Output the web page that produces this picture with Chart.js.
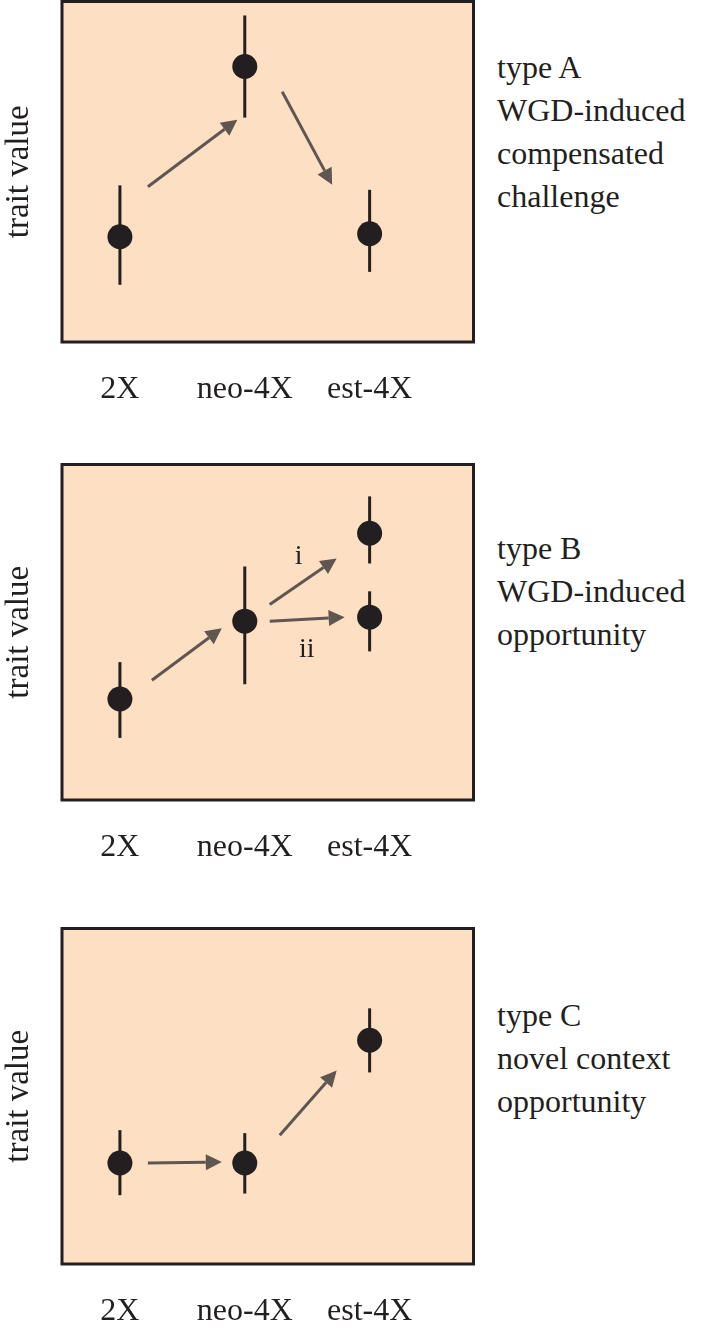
<!DOCTYPE html>
<html><head><meta charset="utf-8">
<script src="https://cdn.jsdelivr.net/npm/chart.js@4/dist/chart.umd.min.js"></script>
<style>
body{margin:0;background:#fff;width:718px;height:1328px;position:relative;overflow:hidden;font-family:"Liberation Serif",serif;}
.p{position:absolute;left:0;width:486px;}
.t{position:absolute;left:497px;font-size:32px;line-height:43px;color:#231f20;}
</style></head><body>
<div class="p" style="top:-11px;height:413px"><canvas id="c0"></canvas></div>
<div class="p" style="top:452px;height:408px"><canvas id="c1"></canvas></div>
<div class="p" style="top:916px;height:408px"><canvas id="c2"></canvas></div>
<div class="t" style="top:46px">type A<br>WGD-induced<br>compensated<br>challenge</div>
<div class="t" style="top:527px">type B<br>WGD-induced<br>opportunity</div>
<div class="t" style="top:994px">type C<br>novel context<br>opportunity</div>
<script>
const categories = ["2X","neo-4X","est-4X"];
// panel A
const aX = [0,1,2];
const aY = [30.9,80.9,31.8];
const aLo = [16.8,65.9,20.6];
const aHi = [46,95.9,44.7];
const aArrows = [[0.224,45.6,0.94,65.3],[1.30,73.5,1.70,46.2]];
// panel B
const bX = [0,1,2,2];
const bY = [30.1,53.3,79.5,54.5];
const bLo = [18.5,34.5,70.5,44.3];
const bHi = [41.1,69.6,90.5,62.2];
const bArrows = [[0.256,35.7,0.816,51.2],[1.2,58.3,1.736,72.0],[1.2,53.3,1.8,54.5]];
const bLabels = [["i",1.432,72.6],["ii",1.496,44.9]];
// panel C
const cX = [0,1,2];
const cY = [30.1,30.1,66.7];
const cLo = [20.5,21.0,57.1];
const cHi = [39.9,39.0,76.2];
const cArrows = [[0.224,30.1,0.816,30.4],[1.28,38.4,1.736,57.7]];

const serif = "'Liberation Serif', serif";
function makeChart(id, xs, ys, lo, hi, arrows, labels){
  const deco = {
    id:'deco',
    beforeDatasetsDraw(ch){
      const {ctx, chartArea:a, scales:{x,y}} = ch;
      ctx.save();
      ctx.fillStyle='#fde0c4';
      ctx.fillRect(a.left,a.top,a.right-a.left,a.bottom-a.top);
      ctx.strokeStyle='#231f20';ctx.lineWidth=3;
      ctx.strokeRect(a.left,a.top,a.right-a.left,a.bottom-a.top);
      ctx.lineWidth=3;ctx.strokeStyle='#231f20';
      xs.forEach((v,i)=>{
        ctx.beginPath();
        ctx.moveTo(x.getPixelForValue(v),y.getPixelForValue(lo[i]));
        ctx.lineTo(x.getPixelForValue(v),y.getPixelForValue(hi[i]));
        ctx.stroke();
      });
      ctx.strokeStyle='#5f5651';ctx.fillStyle='#5f5651';ctx.lineWidth=3;
      arrows.forEach(([x0,y0,x1,y1])=>{
        const px0=x.getPixelForValue(x0),py0=y.getPixelForValue(y0);
        const px1=x.getPixelForValue(x1),py1=y.getPixelForValue(y1);
        const ang=Math.atan2(py1-py0,px1-px0),L=16,W=8;
        const bx=px1-L*Math.cos(ang),by=py1-L*Math.sin(ang);
        ctx.beginPath();ctx.moveTo(px0,py0);ctx.lineTo(bx,by);ctx.stroke();
        ctx.beginPath();ctx.moveTo(px1,py1);
        ctx.lineTo(bx+W*Math.sin(ang),by-W*Math.cos(ang));
        ctx.lineTo(bx-W*Math.sin(ang),by+W*Math.cos(ang));
        ctx.closePath();ctx.fill();
      });
      ctx.fillStyle='#231f20';ctx.font="28px "+serif;ctx.textAlign='center';ctx.textBaseline='middle';
      (labels||[]).forEach(([t,lx,ly])=>ctx.fillText(t,x.getPixelForValue(lx),y.getPixelForValue(ly)));
      ctx.restore();
    }
  };
  return new Chart(document.getElementById(id),{
    type:'scatter',
    data:{datasets:[{data:xs.map((v,i)=>({x:v,y:ys[i]})),pointRadius:12.5,pointHoverRadius:12.5,backgroundColor:'#231f20',borderColor:'#231f20',borderWidth:0}]},
    options:{
      responsive:true,maintainAspectRatio:false,animation:false,
      layout:{padding:{top:2,right:4,left:0,bottom:0}},
      plugins:{legend:{display:false},tooltip:{enabled:false}},
      scales:{
        x:{type:'linear',min:-0.464,max:2.832,grid:{display:false},border:{display:false},
          afterBuildTicks(s){s.ticks=[0,1,2].map(v=>({value:v}));},
          afterFit(s){s.height=60;},
          ticks:{callback:v=>categories[v],color:'#231f20',font:{family:serif,size:32},padding:20,maxRotation:0,autoSkip:false}},
        y:{min:0,max:100,grid:{display:false},border:{display:false},ticks:{display:false},
          afterFit(s){s.width=62;},
          title:{display:true,text:'trait value',color:'#231f20',font:{family:serif,size:33},padding:{top:0,bottom:10}}}
      }
    },
    plugins:[deco]
  });
}
makeChart('c0',aX,aY,aLo,aHi,aArrows);
makeChart('c1',bX,bY,bLo,bHi,bArrows,bLabels);
makeChart('c2',cX,cY,cLo,cHi,cArrows);
</script></body></html>
